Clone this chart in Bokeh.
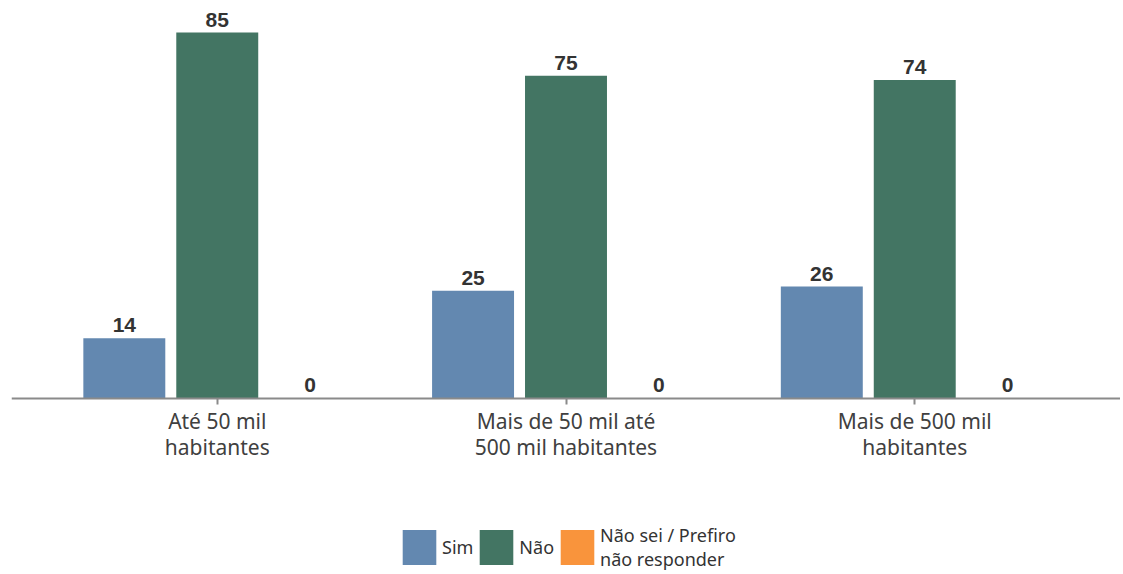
from bokeh.plotting import figure
from bokeh.models import ColumnDataSource, FactorRange, Legend, LegendItem, LabelSet
from bokeh.transform import dodge
from bokeh.embed import file_html
from bokeh.resources import INLINE
from bokeh.core.properties import value

categories = ["Até 50 mil\nhabitantes", "Mais de 50 mil até\n500 mil habitantes", "Mais de 500 mil\nhabitantes"]
sim = [14, 25, 26]
nao = [85, 75, 74]
nao_sei = [0, 0, 0]
series_names = ["Sim", "Não", "Não sei / Prefiro\nnão responder"]
colors = ["#6388B0", "#437563", "#F9943C"]

src = ColumnDataSource(dict(cat=categories, sim=sim, nao=nao, ns=nao_sei,
                            sim_l=[str(v) for v in sim], nao_l=[str(v) for v in nao],
                            ns_l=[str(v) for v in nao_sei]))

p = figure(x_range=FactorRange(factors=categories, range_padding=0.09, range_padding_units="absolute"),
           y_range=(-40.2, 90.6), frame_width=1109, frame_height=563,
           min_border_left=11, min_border_right=0, min_border_top=8, min_border_bottom=0,
           output_backend="svg", toolbar_location=None)

offs = [-0.2665, 0.0, 0.2665]
keys = ["sim", "nao", "ns"]
renderers = []
for k, off, c in zip(keys, offs, colors):
    r = p.vbar(x=dodge("cat", off, range=p.x_range), top=k, width=0.235, source=src,
               fill_color=c, line_color=None)
    renderers.append(r)
    lab = LabelSet(x=dodge("cat", off, range=p.x_range), y=k, text=k + "_l", source=src,
                   text_align="center", text_baseline="bottom", y_offset=6,
                   text_font=value("Liberation Sans"), text_font_style="bold",
                   text_font_size="21px", text_color="#333333")
    p.add_layout(lab)

p.yaxis.visible = False
p.xgrid.visible = False
p.ygrid.visible = False
p.outline_line_color = None
p.xaxis.fixed_location = 0
p.xaxis.axis_line_color = "#8a8a8a"
p.xaxis.axis_line_width = 2
p.xaxis.major_tick_line_color = "#8a8a8a"
p.xaxis.major_tick_line_width = 2
p.xaxis.major_tick_out = 6
p.xaxis.major_tick_in = 0
p.xaxis.minor_tick_line_color = None
p.xaxis.major_label_text_font = "Noto Sans"
p.xaxis.major_label_text_font_size = "21px"
p.xaxis.major_label_text_line_height = 0.92
p.xaxis.major_label_text_color = "#404040"
p.xaxis.major_label_standoff = 3

legend = Legend(items=[LegendItem(label=n, renderers=[r]) for n, r in zip(series_names, renderers)],
                orientation="horizontal", location=(387, 0),
                glyph_width=42, glyph_height=44, label_standoff=2, spacing=2,
                padding=0, margin=0, border_line_color=None, background_fill_alpha=0,
                label_text_font="Noto Sans", label_text_font_size="18px",
                label_text_line_height=1.0,
                label_text_color="#333333", label_height=44)
p.add_layout(legend, "center")

open("out.html", "w").write(file_html(p, INLINE))
